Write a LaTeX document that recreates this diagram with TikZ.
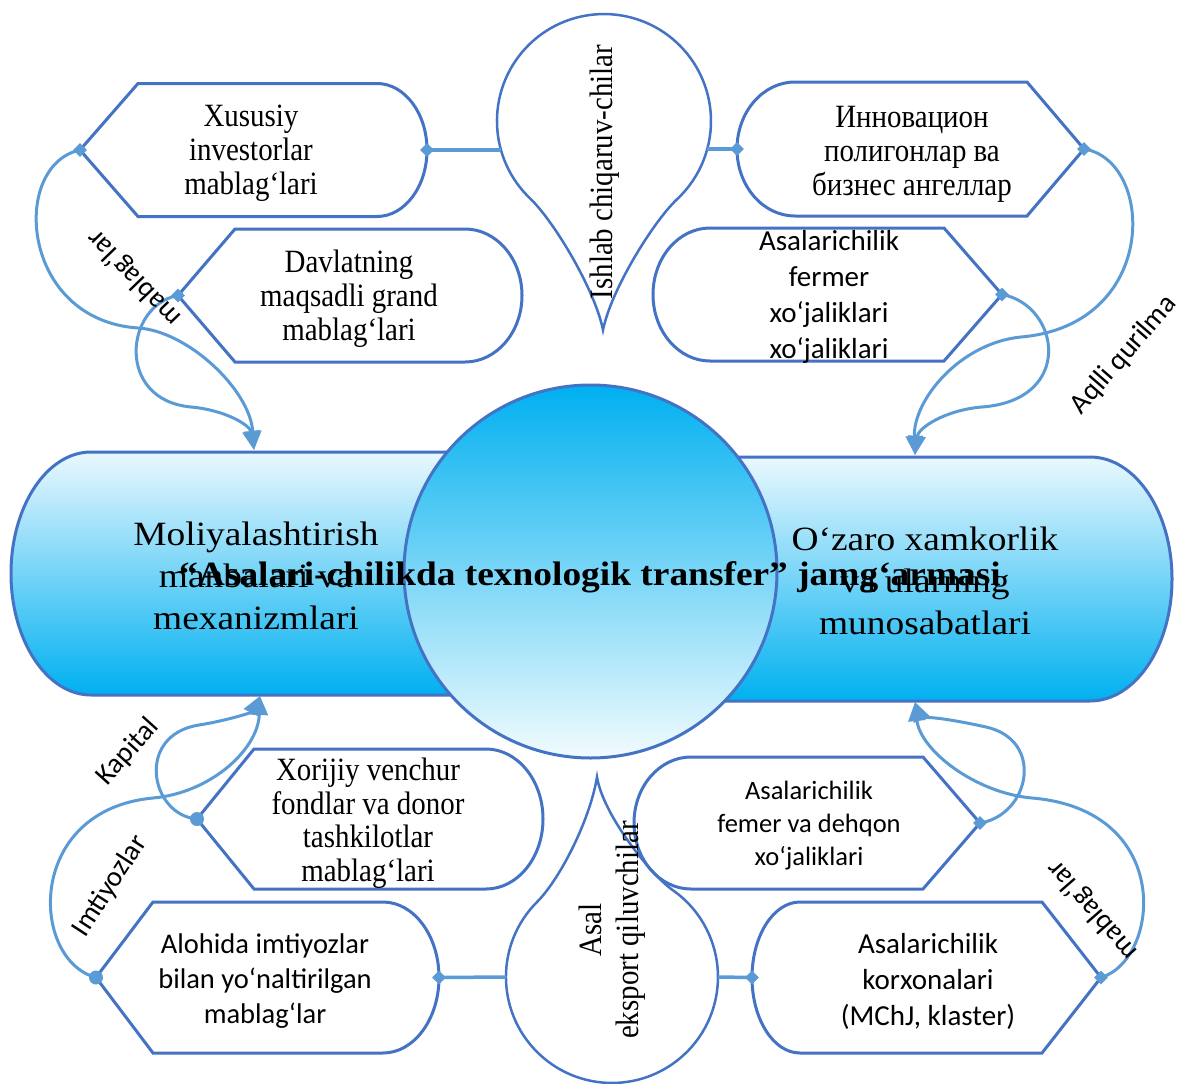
\documentclass[tikz,border=0pt]{standalone}
\usepackage{fontspec}
\setmainfont{Liberation Serif}
\newfontfamily\sansf{Carlito}
\newfontfamily\bserif[FakeStretch=0.89]{Liberation Serif}
\newfontfamily\wserif[FakeStretch=1.1]{Liberation Serif}
\usetikzlibrary{arrows.meta,shapes.geometric}
\definecolor{boxc}{HTML}{4472C4}
\definecolor{connc}{HTML}{5B9BD5}
\definecolor{deep}{HTML}{00B0F0}
\definecolor{lightc}{HTML}{EAF8FE}
\definecolor{lightd}{HTML}{F2FBFE}
\tikzset{
 boxline/.style={draw=boxc, line width=3pt},
 dropline/.style={draw=boxc, line width=2.5pt},
 conn/.style={draw=connc, line width=3pt},
 arr/.style={conn, -{Triangle[length=19pt,width=17pt]}},
 dmark/.style={diamond, fill=connc, inner sep=0pt, minimum size=14pt},
 cmark/.style={circle, fill=connc, inner sep=0pt, minimum size=14pt},
 sertext/.style={align=center, font=\bserif\fontsize{32.5}{34}\selectfont},
 santext/.style={align=center, font=\sansf\fontsize{28.5}{35}\selectfont},
 lbl/.style={font=\sansf\fontsize{28.5}{32}\selectfont},
 cyltext/.style={align=center, font=\wserif\fontsize{34}{42}\selectfont},
}
% pointed left, rounded right: Lx Cx Sx rx Rx yc h name
\newcommand\PBoxL[8]{%
 \draw[boxline] (#1,#6) -- (#2,{#6-#7}) -- (#3,{#6-#7}) arc[start angle=-90,end angle=90,x radius=#4,y radius=#7] -- (#2,{#6+#7}) -- cycle;
 \coordinate (#8-L) at (#1,#6);
 \coordinate (#8-R) at (#5,#6);
}
% rounded left, pointed right: Rx Cx Sx rx Lx yc h name
\newcommand\PBoxR[8]{%
 \draw[boxline] (#1,#6) -- (#2,{#6-#7}) -- (#3,{#6-#7}) arc[start angle=-90,end angle=-270,x radius=#4,y radius=#7] -- (#2,{#6+#7}) -- cycle;
 \coordinate (#8-R) at (#1,#6);
 \coordinate (#8-L) at (#5,#6);
}
\begin{document}
\begin{tikzpicture}[x=1pt,y=-1pt]
\useasboundingbox (0,0) rectangle (1181,1084);
\fill[white] (0,0) rectangle (1181,1084);

% cylinders
\shadedraw[top color=lightc, bottom color=deep, draw=boxc, line width=3pt]
  (600,452) -- (91,452) arc[start angle=270,end angle=90,x radius=80,y radius=121.5] -- (600,695) -- cycle;
\shadedraw[top color=lightc, bottom color=deep, draw=boxc, line width=3pt]
  (590,457) -- (1090,457) arc[start angle=-90,end angle=90,x radius=82,y radius=122] -- (590,701) -- cycle;
\node[cyltext] (cylL) at (256,576) {Moliyalashtirish\\manbalari va\\mexanizmlari};
\node[cyltext] (cylR) at (925,581) {O‘zaro xamkorlik\\va ularning\\munosabatlari};

% central circle
\shadedraw[top color=deep, bottom color=lightd, draw=boxc, line width=3pt]
  (590.5,571.5) circle[radius=186.5];
\node[font=\wserif\bfseries\fontsize{34}{42}\selectfont] (title) at (590,577) {“Asalari-chilikda texnologik transfer” jamg‘armasi};

% boxes
\PBoxL{80}{138}{377}{50}{427}{150}{66.5}{xus}
\PBoxL{178}{235}{465}{57}{522}{295.5}{66.5}{dav}
\PBoxL{197}{254}{486}{57}{543}{819}{70}{xor}
\PBoxL{96}{153}{383}{56}{439}{977.5}{75.5}{alo}
\PBoxR{1084}{1027}{795}{58}{737}{149}{67}{inn}
\PBoxR{1002}{944}{710}{57}{653}{294.5}{66.5}{fer}
\PBoxR{980}{923}{691}{57}{634}{823}{66}{fem}
\PBoxR{1101}{1042}{800}{48}{752}{977.5}{75.5}{kor}

\node[sertext] (txus) at (251,153) {Xususiy\\investorlar\\mablag‘lari};
\node[sertext] (tdav) at (349,299) {Davlatning\\maqsadli grand\\mablag‘lari};
\node[sertext] (tinn) at (912,154) {Инновацион\\полигонлар ва\\бизнес ангеллар};
\node[align=center, font=\sansf\fontsize{29}{36}\selectfont] (tfer) at (829,297) {Asalarichilik\\fermer\\xo‘jaliklari\\xo‘jaliklari};
\node[align=center, font=\bserif\fontsize{32.5}{33.5}\selectfont] (txor) at (368,823) {Xorijiy venchur\\fondlar va donor\\tashkilotlar\\mablag‘lari};
\node[santext] (talo) at (265,981) {Alohida imtiyozlar\\bilan yo‘naltirilgan\\mablag‘lar};
\node[align=center, font=\sansf\fontsize{26.5}{33}\selectfont] (tfem) at (809,826) {Asalarichilik\\femer va dehqon\\xo‘jaliklari};
\node[align=center, font=\sansf\fontsize{29}{36}\selectfont] (tkor) at (928,981) {Asalarichilik\\korxonalari\\(MChJ, klaster)};

% teardrops
\draw[dropline] (603,330) .. controls (595,290) and (555,223) .. (531,199.3)
   arc[start angle=133,end angle=407,radius=107]
   .. controls (653,222) and (611,290) .. (603,330) -- cycle;
\coordinate (dropT-L) at (501,150);
\coordinate (dropT-R) at (707,149);
\node[sertext, rotate=90] (tish) at (605,172) {Ishlab chiqaruv-chilar};

\draw[dropline] (597,777) .. controls (590,820) and (560,879) .. (537,902)
   arc[start angle=225,end angle=-55,radius=106]
   .. controls (651,875) and (603,815) .. (597,777) -- cycle;
\coordinate (dropB-L) at (506,977);
\coordinate (dropB-R) at (718,977);
\node[align=center, rotate=90, font=\bserif\fontsize{32.5}{37}\selectfont] (tasal) at (612,930) {Asal\\eksport qiluvchilar};

% straight connectors
\draw[conn, line width=3.5pt] (xus-R) -- (dropT-L);
\draw[conn, line width=3.5pt] (dropT-R) -- (inn-L);
\draw[conn, line width=3.5pt] (alo-R) -- (dropB-L);
\draw[conn, line width=3.5pt] (dropB-R) -- (kor-L);

% arrow targets
\coordinate (aTL) at (254,450);
\coordinate (aTR) at (915,455);
\coordinate (aBL) at (260,696);
\coordinate (aBR) at (915,702);

% curved connectors
\draw[arr] (xus-L) .. controls (10,165) and (20,320) .. (138,328) .. controls (188,331) and (250,390) .. (aTL);
\draw[arr] (dav-L) .. controls (125,305) and (115,400) .. (191,407) .. controls (225,410) and (250,425) .. (aTL);
\draw[arr] (inn-R) .. controls (1155,160) and (1160,325) .. (1021,337) .. controls (960,343) and (913,400) .. (aTR);
\draw[arr] (fer-R) .. controls (1060,305) and (1075,400) .. (982,407) .. controls (945,410) and (918,428) .. (aTR);
\draw[arr] (xor-L) .. controls (150,815) and (135,735) .. (199,725) .. controls (230,720) and (252,712) .. (aBL);
\draw[arr] (alo-L) .. controls (30,960) and (25,810) .. (153,798) .. controls (210,793) and (258,750) .. (aBL);
\draw[arr] (fem-R) .. controls (1030,815) and (1045,740) .. (986,727) .. controls (950,719) and (920,715) .. (aBR);
\draw[arr] (kor-R) .. controls (1160,960) and (1175,810) .. (1032,798) .. controls (975,793) and (920,750) .. (aBR);

% labels
\node[lbl, rotate=134] (l1) at (134,278) {mablag‘lar};
\node[lbl, rotate=49] (l2) at (1124,355) {Aqlli qurilma};
\node[lbl, rotate=48] (l3) at (128,752) {Kapital};
\node[lbl, rotate=57] (l4) at (110,886) {Imtiyozlar};
\node[lbl, rotate=131] (l5) at (1092,910) {mablag‘lar};

% markers
\foreach \p in {xus-L,xus-R,dav-L,inn-L,inn-R,fer-R,alo-R,kor-L,kor-R,fem-R}
  \node[dmark] at (\p) {};
\foreach \p in {xor-L,alo-L}
  \node[cmark] at (\p) {};
\end{tikzpicture}
\end{document}
